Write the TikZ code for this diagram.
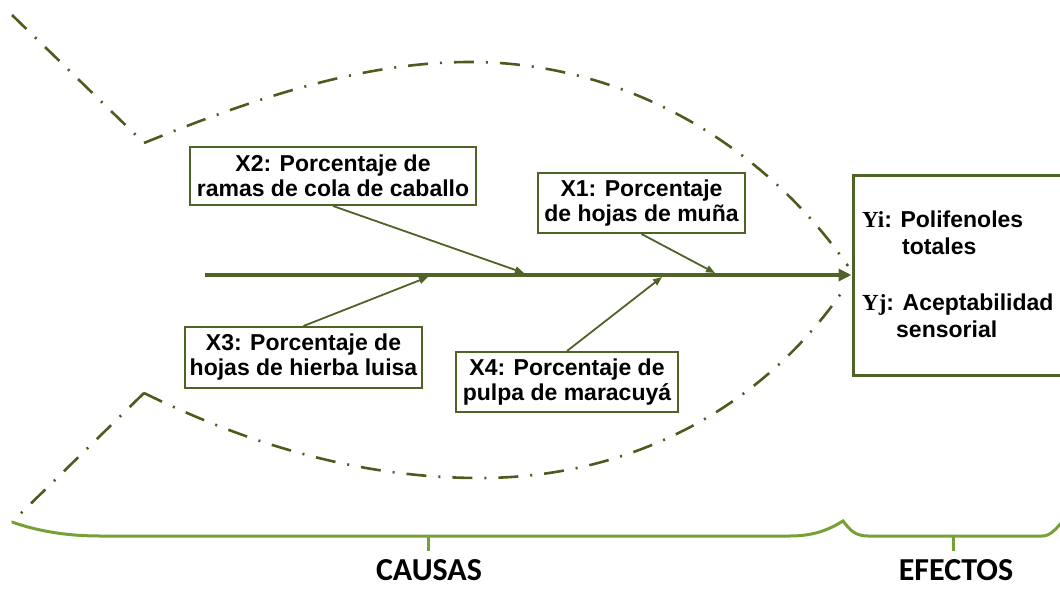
\documentclass[tikz,border=0pt]{standalone}
\usepackage{fontspec}
\setmainfont{Liberation Sans}
\newfontfamily\yfont{Liberation Serif}
\newfontfamily\capfont{Carlito}
\usetikzlibrary{arrows.meta}
\definecolor{fishdark}{HTML}{4F5A1E}
\definecolor{boxcol}{HTML}{4F6228}
\definecolor{bracegreen}{HTML}{77A037}
\begin{document}
\begin{tikzpicture}[x=1pt,y=-1pt,
  fishline/.style={draw=fishdark, line width=2.6pt, dash pattern=on 20pt off 12pt on 2pt off 12pt},
  causebox/.style={draw=boxcol, line width=2pt, fill=white, font=\bfseries\fontsize{23}{25}\selectfont, align=center, inner sep=0pt},
  causearrow/.style={draw=boxcol, line width=1.8pt, -{Triangle[length=9pt,width=7pt]}},
  spine/.style={draw=boxcol, line width=4pt, -{Triangle[length=13pt,width=12pt]}},
  ytext/.style={anchor=base west, inner sep=0pt, font=\bfseries\fontsize{23}{25}\selectfont},
  bracestyle/.style={draw=bracegreen, line width=3pt},
  biglabel/.style={inner sep=0pt, anchor=base, font=\capfont\bfseries\fontsize{32}{34}\selectfont}]
\useasboundingbox (0,0) rectangle (1060,591);

% fish outline
\coordinate (tailtop) at (12,15);
\coordinate (uc) at (144,143);
\coordinate (lc) at (144,393);
\coordinate (tailbot) at (12,522);
\coordinate (headtop) at (848,266);
\coordinate (headbot) at (846,286);
\draw[fishline] (tailtop) -- (uc);
\draw[fishline] (lc) -- (tailbot);
\draw[fishline] (uc) .. controls (250,100) and (360,62) .. (470,62) .. controls (620,62) and (760,140) .. (headtop);
\draw[fishline] (lc) .. controls (260,450) and (370,478) .. (480,478) .. controls (640,478) and (770,400) .. (headbot);

% effect box
\node[draw=boxcol, line width=3pt, fill=white, minimum width=220pt, minimum height=200pt, inner sep=0pt] (ybox) at (963,275) {};
\node[ytext] (yi) at (862,227) {{\yfont Yi}: Polifenoles};
\node[ytext] (yitot) at (902,254) {totales};
\node[ytext] (yj) at (862,310) {{\yfont Yj}: Aceptabilidad};
\node[ytext] (yjsen) at (896,337) {sensorial};

% spine
\coordinate (tail) at (205,275);
\draw[spine] (tail) -- (ybox.west);

% cause boxes
\node[causebox, minimum width=286pt, minimum height=58pt] (x2) at (333,176) {X2: Porcentaje de\\ramas de cola de caballo};
\node[causebox, minimum width=207pt, minimum height=60pt] (x1) at (641.5,203) {X1: Porcentaje\\de hojas de muña};
\node[causebox, minimum width=237pt, minimum height=61pt] (x3) at (303.5,357.5) {X3: Porcentaje de\\hojas de hierba luisa};
\node[causebox, minimum width=222pt, minimum height=60pt] (x4) at (567,382) {X4: Porcentaje de\\pulpa de maracuyá};

\coordinate (s2) at (524,273);
\coordinate (s1) at (715,273);
\coordinate (s3) at (428,277);
\coordinate (s4) at (662,277);
\draw[causearrow] (x2.south) -- (s2);
\draw[causearrow] (x1.south) -- (s1);
\draw[causearrow] (x3.north) -- (s3);
\draw[causearrow] (x4.north) -- (s4);

% braces
\coordinate (bl) at (12,522);
\coordinate (bpeak) at (843,521);
\coordinate (br) at (1062,522);
\coordinate (ct) at (428,536);
\coordinate (et) at (953,536);
\draw[bracestyle] (bl) .. controls (40,532) and (70,536) .. (100,536) -- (790,536) .. controls (815,536) and (830,529) .. (bpeak) .. controls (850,530) and (855,536) .. (868,536) -- (1042,536) .. controls (1050,536) and (1055,530) .. (br);
\draw[bracestyle] (ct) -- ++(0,15);
\draw[bracestyle] (et) -- ++(0,15);
\node[biglabel] (causas) at (429,580) {CAUSAS};
\node[biglabel] (efectos) at (956,580) {EFECTOS};
\end{tikzpicture}
\end{document}
